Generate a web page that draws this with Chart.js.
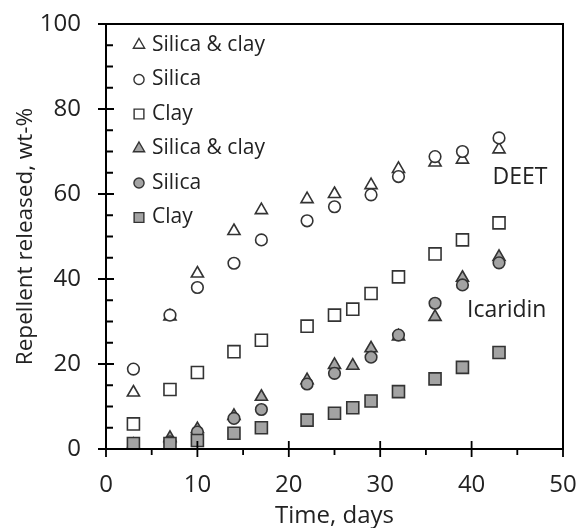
<!DOCTYPE html>
<html>
<head>
<meta charset="utf-8">
<script src="https://cdn.jsdelivr.net/npm/chart.js@4/dist/chart.umd.min.js"></script>
<style>
  html, body { margin: 0; padding: 0; background: #fff; }
  #wrap { width: 582px; height: 528px; }
</style>
</head>
<body>
<div id="wrap"><canvas id="releaseChart" width="582" height="528"></canvas></div>
<script>
// release data (days vs wt-%)
var deetTriDays = [3, 7, 10, 14, 17, 22, 25, 29, 32, 36, 39, 43];
var deetTri = [13.3, 31.2, 41.3, 51.3, 56.2, 58.8, 60.0, 62.1, 65.9, 67.4, 68.1, 70.5];
var deetCircDays = [3, 7, 10, 14, 17, 22, 25, 29, 32, 36, 39, 43];
var deetCirc = [18.8, 31.5, 38.0, 43.7, 49.2, 53.7, 57.0, 59.8, 64.1, 68.8, 70.0, 73.2];
var deetSqDays = [3, 7, 10, 14, 17, 22, 25, 27, 29, 32, 36, 39, 43];
var deetSq = [5.9, 14.0, 18.0, 22.9, 25.6, 28.9, 31.5, 32.9, 36.6, 40.5, 45.9, 49.2, 53.2];

var icaTriDays = [3, 7, 10, 14, 17, 22, 25, 27, 29, 32, 36, 39, 43];
var icaTri = [1.0, 2.6, 4.7, 7.8, 12.3, 16.2, 19.8, 19.6, 23.7, 26.5, 31.1, 40.3, 45.2];
var icaCircDays = [3, 7, 10, 14, 17, 22, 25, 29, 32, 36, 39, 43];
var icaCirc = [0.5, 1.7, 4.0, 7.2, 9.3, 15.3, 17.8, 21.6, 26.8, 34.3, 38.6, 43.8];
var icaSqDays = [3, 7, 10, 14, 17, 22, 25, 27, 29, 32, 36, 39, 43];
var icaSq = [1.3, 1.3, 2.0, 3.7, 5.0, 6.8, 8.4, 9.7, 11.3, 13.5, 16.5, 19.2, 22.7];

var seriesLabels = ['Silica & clay', 'Silica', 'Clay', 'Silica & clay', 'Silica', 'Clay'];
var xMajor = [0, 10, 20, 30, 40, 50];
var xMinor = [5, 15, 25, 35, 45];
var yMajor = [0, 20, 40, 60, 80, 100];
var yMinor = [5, 10, 15, 25, 30, 35, 45, 50, 55, 65, 70, 75, 85, 90, 95];

var FONT = "'Open Sans', 'DejaVu Sans', sans-serif";
var INK = '#222';
var EDGE = '#333';
var GREY = '#a3a3a3';

function pts(xs, ys) {
  return xs.map(function (d, i) { return { x: d, y: ys[i] }; });
}

function series(label, xs, ys, style, filled, order) {
  var r = style === 'triangle' ? 7 : (style === 'rect' ? 8.5 : 5.8);
  return {
    label: label,
    data: pts(xs, ys),
    pointStyle: style,
    pointRadius: r,
    pointHoverRadius: r,
    pointBorderWidth: 1.6,
    pointBorderColor: EDGE,
    pointBackgroundColor: filled ? GREY : '#fff',
    showLine: false,
    order: order
  };
}

// small marker drawer for the in-plot legend
function marker(ctx, style, x, y, r, fill) {
  ctx.save();
  ctx.fillStyle = fill;
  ctx.strokeStyle = EDGE;
  ctx.lineWidth = 1.4;
  ctx.beginPath();
  if (style === 'triangle') {
    ctx.moveTo(x, y - r);
    ctx.lineTo(x + r * 0.866, y + r * 0.5);
    ctx.lineTo(x - r * 0.866, y + r * 0.5);
    ctx.closePath();
  } else if (style === 'rect') {
    var s = r * 0.75;
    ctx.rect(x - s, y - s, 2 * s, 2 * s);
  } else {
    ctx.arc(x, y, r * 0.78, 0, Math.PI * 2);
  }
  ctx.fill();
  ctx.stroke();
  ctx.restore();
}

var framePlugin = {
  id: 'frameTicks',
  afterDatasetsDraw: function (chart) {
    var ctx = chart.ctx, a = chart.chartArea;
    var xs = chart.scales.x, ys = chart.scales.y;
    ctx.save();
    ctx.strokeStyle = '#000';
    ctx.lineWidth = 2;
    ctx.strokeRect(a.left, a.top, a.right - a.left, a.bottom - a.top);
    ctx.lineWidth = 1.8;
    ctx.beginPath();
    xMajor.forEach(function (v) {
      var px = xs.getPixelForValue(v);
      ctx.moveTo(px, a.bottom - 8); ctx.lineTo(px, a.bottom + 8);
    });
    xMinor.forEach(function (v) {
      var px = xs.getPixelForValue(v);
      ctx.moveTo(px, a.bottom); ctx.lineTo(px, a.bottom + 6);
    });
    yMajor.forEach(function (v) {
      var py = ys.getPixelForValue(v);
      ctx.moveTo(a.left - 8, py); ctx.lineTo(a.left + 8, py);
    });
    yMinor.forEach(function (v) {
      var py = ys.getPixelForValue(v);
      ctx.moveTo(a.left, py); ctx.lineTo(a.left + 7, py);
    });
    ctx.stroke();

    // legend inside plot
    ctx.font = '21px ' + FONT;
    ctx.fillStyle = INK;
    ctx.textBaseline = 'middle';
    chart.data.datasets.forEach(function (ds, i) {
      var y = a.top + 21 + i * 34.5;
      marker(ctx, ds.pointStyle, a.left + 33, y, 6.5, ds.pointBackgroundColor);
      ctx.fillStyle = INK;
      ctx.fillText(seriesLabels[i], a.left + 46, y);
    });

    // repellent labels
    ctx.font = '23px ' + FONT;
    ctx.fillText('DEET', xs.getPixelForValue(42.3), ys.getPixelForValue(64));
    ctx.fillText('Icaridin', xs.getPixelForValue(39.5), ys.getPixelForValue(32.5));
    ctx.restore();
  }
};

var ctx = document.getElementById('releaseChart');
new Chart(ctx, {
  type: 'scatter',
  data: {
    datasets: [
      series(seriesLabels[0], deetTriDays, deetTri, 'triangle', false, 2),
      series(seriesLabels[1], deetCircDays, deetCirc, 'circle', false, 1),
      series(seriesLabels[2], deetSqDays, deetSq, 'rect', false, 0),
      series(seriesLabels[3], icaTriDays, icaTri, 'triangle', true, 2),
      series(seriesLabels[4], icaCircDays, icaCirc, 'circle', true, 1),
      series(seriesLabels[5], icaSqDays, icaSq, 'rect', true, 0)
    ]
  },
  options: {
    responsive: false,
    animation: false,
    layout: { padding: { left: 0, right: 19, top: 24, bottom: 0 } },
    plugins: { legend: { display: false }, tooltip: { enabled: false } },
    scales: {
      x: {
        type: 'linear',
        min: 0, max: 50,
        // tickLength only offsets the labels; the marks come from framePlugin
        grid: { display: false, drawTicks: true, tickLength: 22 },
        border: { display: false },
        ticks: { stepSize: 10, padding: 0, color: INK, font: { family: FONT, size: 24 } },
        title: { display: true, text: 'Time, days', color: INK, font: { family: FONT, size: 24, lineHeight: 1.0 }, padding: { top: 0, bottom: 0 } },
        afterFit: function (s) { s.height = 79; }
      },
      y: {
        min: 0, max: 100,
        grid: { display: false, drawTicks: true, tickLength: 25 },
        border: { display: false },
        ticks: { stepSize: 20, padding: 0, color: INK, font: { family: FONT, size: 24 } },
        title: { display: true, text: 'Repellent released, wt-%', color: INK, font: { family: FONT, size: 22.5 }, padding: { top: 12, bottom: 0 } },
        afterFit: function (s) { s.width = 106; }
      }
    }
  },
  plugins: [framePlugin]
});
</script>
</body>
</html>
